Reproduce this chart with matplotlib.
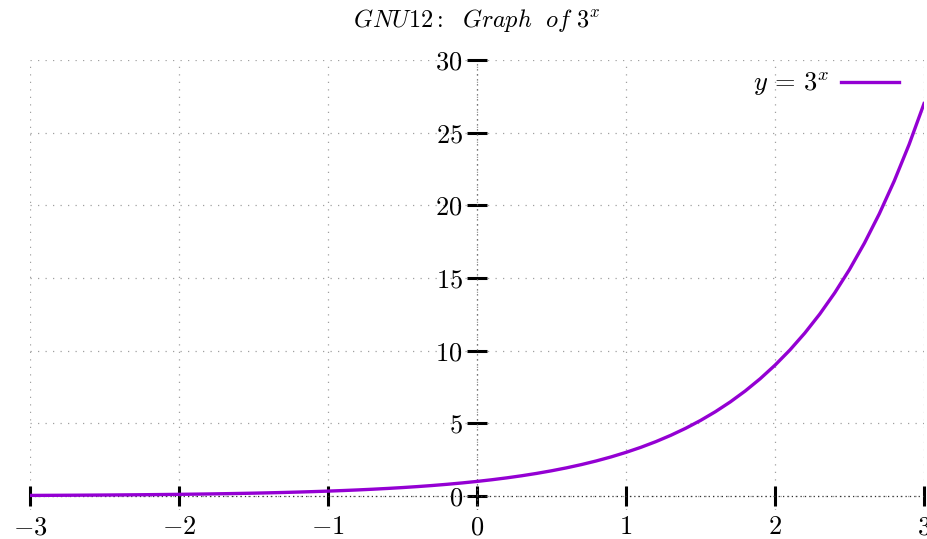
import matplotlib.pyplot as plt

plt.rcParams['mathtext.fontset'] = 'cm'
plt.rcParams['font.family'] = 'serif'
plt.rcParams['font.serif'] = ['cmr10', 'DejaVu Serif']

x_vals = [-3.0, -2.9, -2.8, -2.7, -2.6, -2.5, -2.4, -2.3, -2.2, -2.1,
          -2.0, -1.9, -1.8, -1.7, -1.6, -1.5, -1.4, -1.3, -1.2, -1.1,
          -1.0, -0.9, -0.8, -0.7, -0.6, -0.5, -0.4, -0.3, -0.2, -0.1,
          0.0, 0.1, 0.2, 0.3, 0.4, 0.5, 0.6, 0.7, 0.8, 0.9,
          1.0, 1.1, 1.2, 1.3, 1.4, 1.5, 1.6, 1.7, 1.8, 1.9,
          2.0, 2.1, 2.2, 2.3, 2.4, 2.5, 2.6, 2.7, 2.8, 2.9, 3.0]
y_vals = [0.0370, 0.0413, 0.0461, 0.0515, 0.0575, 0.0642, 0.0716, 0.0799, 0.0892, 0.0996,
          0.1111, 0.1240, 0.1384, 0.1545, 0.1724, 0.1925, 0.2148, 0.2397, 0.2676, 0.2987,
          0.3333, 0.3720, 0.4152, 0.4635, 0.5173, 0.5774, 0.6444, 0.7192, 0.8027, 0.8960,
          1.0, 1.1161, 1.2457, 1.3904, 1.5518, 1.7321, 1.9332, 2.1577, 2.4082, 2.6879,
          3.0, 3.3484, 3.7372, 4.1712, 4.6555, 5.1962, 5.7995, 6.4730, 7.2247, 8.0636,
          9.0, 10.045, 11.212, 12.514, 13.967, 15.588, 17.399, 19.419, 21.674, 24.191, 27.0]

x_ticks = [-3, -2, -1, 0, 1, 2, 3]
y_ticks = [0, 5, 10, 15, 20, 25, 30]

fig = plt.figure(figsize=(9.27, 5.39), dpi=100)
ax = fig.add_axes([0.0324, 0.0529, 0.9644, 0.8358])

ax.plot(x_vals, y_vals, color='#9400d3', lw=2.4, label=r'$y\,=\,3^x$', zorder=5)

ax.set_xlim(-3, 3)
ax.set_ylim(-1, 30)

# grid
for xt in x_ticks:
    ax.axvline(xt, color='#a0a0a0', lw=0.9, ls=(0, (1, 5)), zorder=1)
for yt in y_ticks:
    ax.axhline(yt, color='#a0a0a0', lw=0.9, ls=(0, (1, 5)), zorder=1)

# zero axes
ax.axhline(0, color='#303030', lw=0.9, ls=(0, (1, 2.5)), zorder=2)
ax.axvline(0, color='#606060', lw=0.9, ls=(0, (1, 3)), zorder=2)

for s in ax.spines.values():
    s.set_visible(False)
ax.spines['bottom'].set_position(('data', 0))
ax.spines['left'].set_position(('data', 0))

ax.set_xticks(x_ticks)
ax.set_xticklabels([r'$%d$' % v for v in x_ticks])
ax.set_yticks(y_ticks)
ax.set_yticklabels([r'$%d$' % v for v in y_ticks])
ax.tick_params(axis='both', direction='inout', length=14.5, width=2.2,
               color='black', labelsize=19)
ax.tick_params(axis='x', pad=7)
ax.tick_params(axis='y', pad=3)

# title placed directly on the figure
fig.text(0.5146, 0.962, r'$GNU12{:}\ \ Graph\ \ of\ 3^x$', fontsize=17.5,
         ha='center', va='center')

ax.legend(loc='upper right', frameon=False, markerfirst=False, fontsize=19,
          handlelength=2.2, borderaxespad=0.2, handletextpad=0.45,
          bbox_to_anchor=(0.99, 1.012))

fig.savefig('out.png', dpi=100)
